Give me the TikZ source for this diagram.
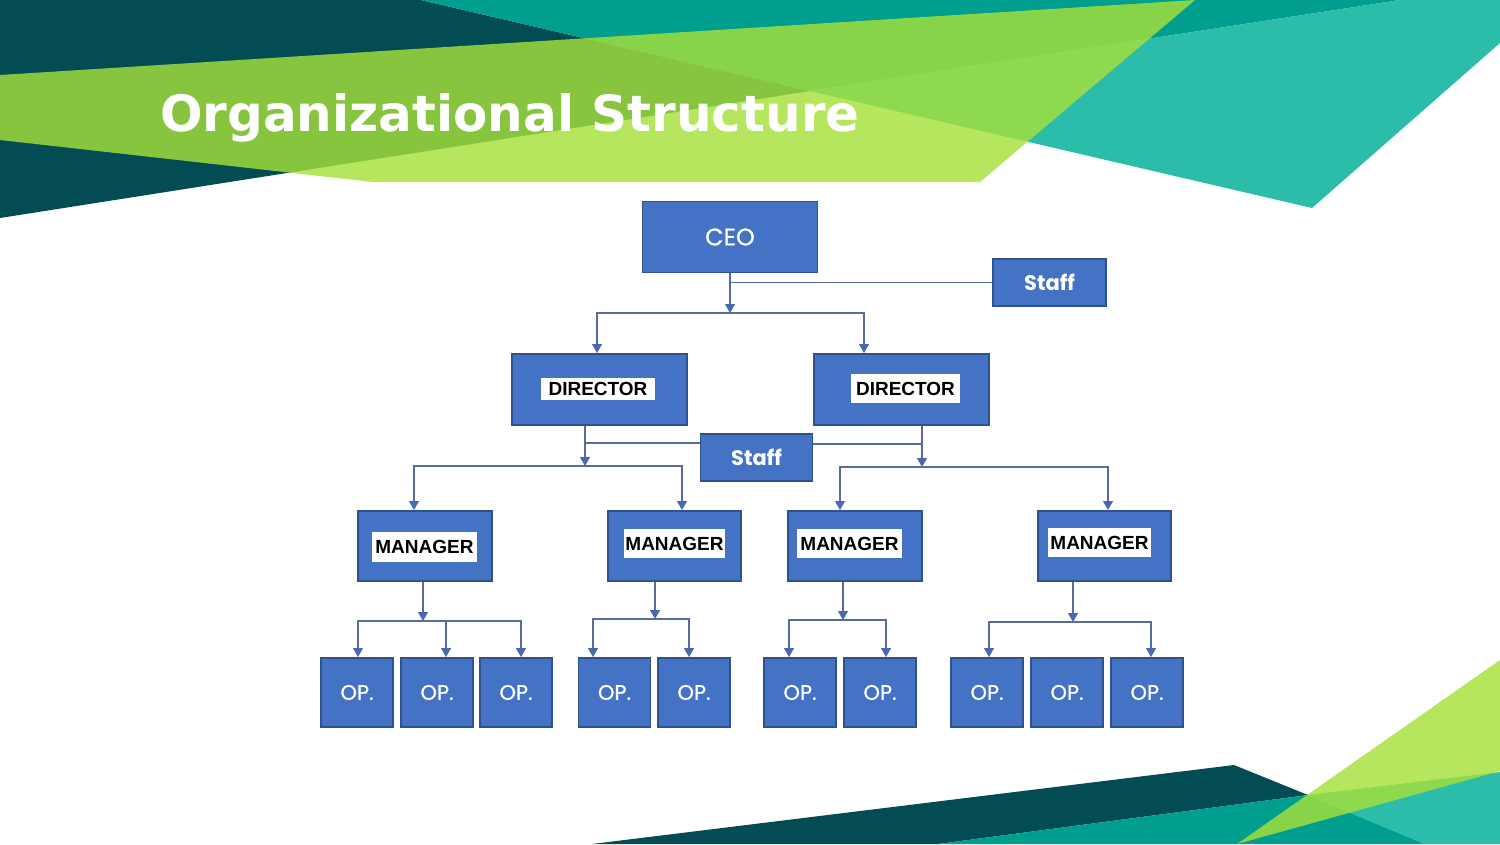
\documentclass[tikz,border=0pt]{standalone}
\usepackage{fontspec}
\usetikzlibrary{arrows.meta}
\newfontfamily\titlefont{DejaVu Sans}
\newfontfamily\boxfont{Poppins}[FakeBold=0.8]
\newfontfamily\staffont{Poppins}
\newfontfamily\labfont{Liberation Sans}
\definecolor{darkteal}{RGB}{3,76,84}
\definecolor{teal}{RGB}{0,158,142}
\definecolor{lightteal}{RGB}{43,188,170}
\definecolor{bandgreen}{RGB}{166,224,59}
\definecolor{boxblue}{RGB}{68,114,196}
\definecolor{boxedge}{RGB}{47,82,143}
\definecolor{linecol}{RGB}{88,108,158}
\definecolor{arrowcol}{RGB}{72,104,178}
\begin{document}
\begin{tikzpicture}[x=1pt,y=-1pt,
  box/.style={draw=boxedge, line width=1.2pt, fill=boxblue, inner sep=0pt, text=white,
    font=\boxfont\fontsize{24}{28}\selectfont},
  staffbox/.style={box, font=\staffont\bfseries\fontsize{21}{25}\selectfont},
  opbox/.style={box, minimum width=72pt, minimum height=69pt, font=\boxfont\fontsize{21}{25}\selectfont},
  lab/.style={fill=white, inner sep=0pt, text=black, font=\labfont\bfseries\fontsize{19}{22}\selectfont},
  ln/.style={draw=linecol, line width=1.3pt},
  arr/.style={ln, -{Triangle[width=10pt,length=9pt,color=arrowcol]}}
]
\useasboundingbox (0,0) rectangle (1500,844);
\fill[white] (0,0) rectangle (1500,844);
% top background shapes
\fill[darkteal] (0,0) -- (421,0) -- (810,91) -- (0,218) -- cycle;
\fill[teal] (421,0) -- (1400,0) -- (810,91) -- cycle;
\fill[lightteal] (810,91) -- (1400,0) -- (1500,0) -- (1500,43) -- (1312,208) -- cycle;
\fill[bandgreen, opacity=0.82] (0,75) -- (1195,0) -- (980,182) -- (373,182) -- (0,140) -- cycle;
% bottom background shapes
\fill[darkteal] (592,844) -- (1234,765) -- (1308,795) -- (938,844) -- cycle;
\fill[teal] (938,844) -- (1308,795) -- (1425,844) -- cycle;
\fill[lightteal] (1308,795) -- (1500,772) -- (1500,844) -- (1425,844) -- cycle;
\fill[bandgreen, opacity=0.82] (1237,844) -- (1500,660) -- (1500,771) -- cycle;
% title
\node[anchor=base west, inner sep=0pt, text=white,
  font=\titlefont\bfseries\fontsize{50}{60}\selectfont] (title) at (160,131) {Organizational Structure};
% boxes
\node[box, minimum width=175pt, minimum height=71pt] (ceo) at (730,237) {CEO};
\node[staffbox, minimum width=113pt, minimum height=47pt] (staff1) at (1049.5,282.5) {Staff};
\node[box, minimum width=175pt, minimum height=71pt] (d1) at (599.5,389.5) {};
\node[box, minimum width=175pt, minimum height=71pt] (d2) at (901.5,389.5) {};
\node[lab, minimum width=114pt, minimum height=22pt] (d1l) at (598,389) {DIRECTOR};
\node[lab, minimum width=109pt, minimum height=29pt] (d2l) at (905.5,388.5) {DIRECTOR};
\node[staffbox, minimum width=112pt, minimum height=47pt] (staff2) at (756.5,457.5) {Staff};
\node[box, minimum width=134pt, minimum height=70pt] (m1) at (425,546) {};
\node[box, minimum width=133pt, minimum height=70pt] (m2) at (674.5,546) {};
\node[box, minimum width=134pt, minimum height=70pt] (m3) at (855,546) {};
\node[box, minimum width=133pt, minimum height=70pt] (m4) at (1104.5,546) {};
\node[lab, minimum width=105pt, minimum height=30pt] (m1l) at (424.5,547) {MANAGER};
\node[lab, minimum width=101pt, minimum height=29pt] (m2l) at (674.5,543.5) {MANAGER};
\node[lab, minimum width=105pt, minimum height=29pt] (m3l) at (849.5,543.5) {MANAGER};
\node[lab, minimum width=103pt, minimum height=29pt] (m4l) at (1099.5,542.5) {MANAGER};
\node[opbox] (o1) at (357,692.5) {OP.};
\node[opbox] (o2) at (437,692.5) {OP.};
\node[opbox] (o3) at (516,692.5) {OP.};
\node[opbox] (o4) at (614.5,692.5) {OP.};
\node[opbox] (o5) at (694,692.5) {OP.};
\node[opbox] (o6) at (800,692.5) {OP.};
\node[opbox] (o7) at (880,692.5) {OP.};
\node[opbox] (o8) at (987,692.5) {OP.};
\node[opbox] (o9) at (1067,692.5) {OP.};
\node[opbox] (o10) at (1147,692.5) {OP.};
% junctions and landing points
\coordinate (j0) at (730,313);
\coordinate (d1in) at (597,353);
\coordinate (d2in) at (864,353);
\coordinate (j1) at (585,466);
\coordinate (j2) at (922,467);
\coordinate (m1in) at (414,510);
\coordinate (m2in) at (682,510);
\coordinate (m3in) at (840,510);
\coordinate (m4in) at (1108,510);
\coordinate (j3) at (423,621);
\coordinate (j4) at (655,619);
\coordinate (j5) at (843,620);
\coordinate (j6) at (1073,622);
\coordinate (o1in) at (358,657);
\coordinate (o2in) at (446,657);
\coordinate (o3in) at (521,657);
\coordinate (o4in) at (593,657);
\coordinate (o5in) at (689,657);
\coordinate (o6in) at (789,657);
\coordinate (o7in) at (886,657);
\coordinate (o8in) at (989,657);
\coordinate (o10in) at (1151,657);
% connectors
\draw[ln] (staff1.west) -- (staff1.west -| j0);
\draw[arr] (ceo.south) -- (j0);
\draw[arr] (j0) -| (d1in);
\draw[arr] (j0) -| (d2in);
\draw[ln] ([yshift=14.5pt]staff2.west) -- ([yshift=14.5pt]staff2.west -| j1);
\draw[ln] ([yshift=13.5pt]staff2.east) -- ([yshift=13.5pt]staff2.east -| j2);
\draw[arr] (d1.south -| j1) -- (j1);
\draw[arr] (d2.south -| j2) -- (j2);
\draw[arr] (j1) -| (m1in);
\draw[arr] (j1) -| (m2in);
\draw[arr] (j2) -| (m3in);
\draw[arr] (j2) -| (m4in);
\draw[arr] (m1.south -| j3) -- (j3);
\draw[arr] (m2.south -| j4) -- (j4);
\draw[arr] (m3.south -| j5) -- (j5);
\draw[arr] (m4.south -| j6) -- (j6);
\draw[arr] (j3) -| (o1in);
\draw[arr] (j3) -| (o2in);
\draw[arr] (j3) -| (o3in);
\draw[arr] (j4) -| (o4in);
\draw[arr] (j4) -| (o5in);
\draw[arr] (j5) -| (o6in);
\draw[arr] (j5) -| (o7in);
\draw[arr] (j6) -| (o8in);
\draw[arr] (j6) -| (o10in);
\end{tikzpicture}
\end{document}
